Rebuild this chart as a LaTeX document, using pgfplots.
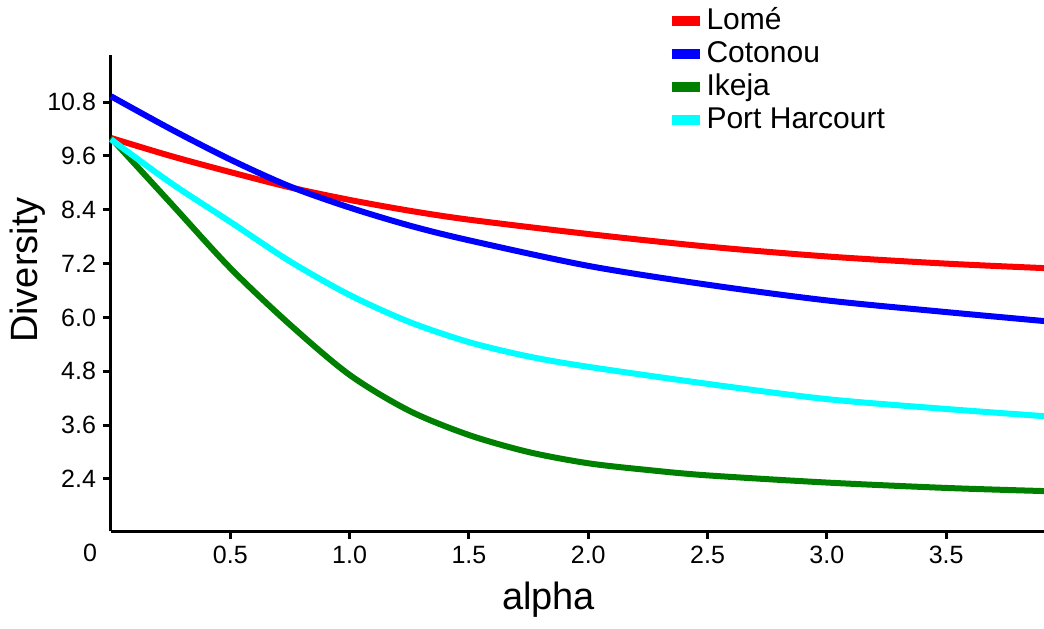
\documentclass[border=0pt]{standalone}
\usepackage{fontspec}
\setmainfont{Liberation Sans}
\usepackage{pgfplots}
\pgfplotsset{compat=1.18}
\definecolor{lred}{RGB}{255,0,0}
\definecolor{lblue}{RGB}{0,0,255}
\definecolor{lgreen}{RGB}{0,128,0}
\definecolor{lcyan}{RGB}{0,255,255}

\begin{document}
\begin{tikzpicture}
\begin{axis}[
  scale only axis, width=466.5pt, height=238pt,
  xmin=0, xmax=3.91, ymin=1.24, ymax=11.85,
  axis lines*=left,
  axis line style={line width=1.5pt, black},
  tick align=outside, major tick length=4pt,
  tick style={line width=1.5pt, black},
  xtick={0.5,1,1.5,2,2.5,3,3.5},
  xticklabels={0.5,1.0,1.5,2.0,2.5,3.0,3.5},
  ytick={2.4,3.6,4.8,6.0,7.2,8.4,9.6,10.8},
  yticklabels={2.4,3.6,4.8,6.0,7.2,8.4,9.6,10.8},
  /pgf/number format/assume math mode=true,
  tick label style={font=\fontsize{12.5}{15}\selectfont},
  xlabel={alpha}, ylabel={Diversity},
  every axis x label/.style={at={(axis description cs:0.469,-0.145)}, anchor=center, font=\fontsize{19}{22}\selectfont},
  every axis y label/.style={at={(axis description cs:-0.089,0.548)}, rotate=90, anchor=center, font=\fontsize{19}{22}\selectfont},
  legend style={at={(axis description cs:0.595,1.105)}, anchor=north west,
    draw=none, fill=none, font=\fontsize{15}{17}\selectfont,
    row sep=0.5pt, inner sep=0pt,
    nodes={inner sep=1pt, text height=11pt, text depth=3pt}},
  legend cell align=left,
  legend image code/.code={\draw[line width=5pt] (0pt,0pt) -- (14pt,0pt);},
  every axis plot/.append style={line width=3pt, smooth},
  clip=false,
]
\addplot[lred] coordinates {
(0,10.0) (0.25,9.6) (0.5,9.24) (0.75,8.9) (1.0,8.62) (1.25,8.38) (1.5,8.18)
(2.0,7.86) (2.5,7.58) (3.0,7.36) (3.5,7.2) (3.91,7.1)};
\addlegendentry{Lomé}
\addplot[lblue] coordinates {
(0,10.93) (0.25,10.2) (0.5,9.52) (0.75,8.92) (1.0,8.45) (1.25,8.05) (1.5,7.72)
(2.0,7.15) (2.5,6.73) (3.0,6.38) (3.5,6.12) (3.91,5.92)};
\addlegendentry{Cotonou}
\addplot[lgreen] coordinates {
(0,10.0) (0.25,8.55) (0.5,7.1) (0.75,5.84) (1.0,4.72) (1.25,3.92) (1.5,3.38)
(1.75,3.0) (2.0,2.75) (2.25,2.6) (2.5,2.48) (3.0,2.32) (3.5,2.2) (3.91,2.13)};
\addlegendentry{Ikeja}
\addplot[lcyan] coordinates {
(0,9.97) (0.25,9.0) (0.5,8.13) (0.75,7.25) (1.0,6.5) (1.25,5.9) (1.5,5.45)
(1.75,5.13) (2.0,4.9) (2.5,4.52) (3.0,4.18) (3.5,3.96) (3.91,3.8)};
\addlegendentry{Port Harcourt}
\node[font=\fontsize{12.5}{15}\selectfont] at (rel axis cs:0,0) [xshift=-10.5pt, yshift=-11pt] {0};
\end{axis}
\pgfresetboundingbox
\useasboundingbox (-55.5pt,-48.5pt) rectangle (466.5pt,265.5pt);
\end{tikzpicture}
\end{document}
